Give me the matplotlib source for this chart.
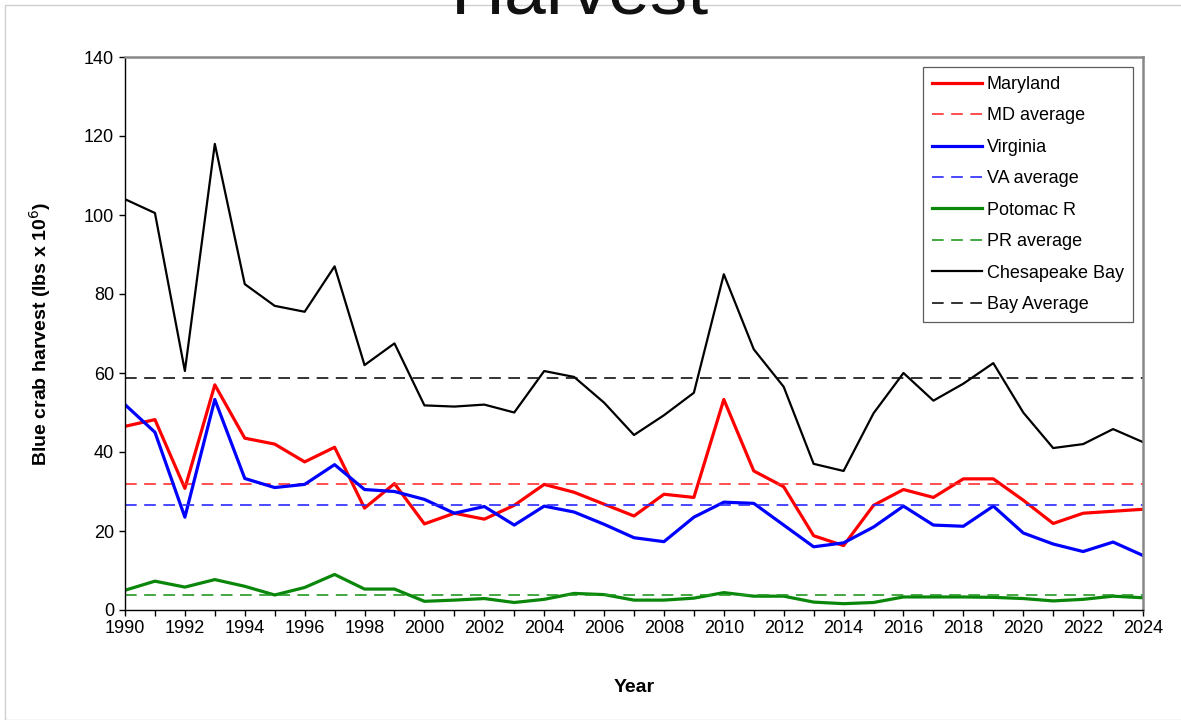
import matplotlib
matplotlib.use("Agg")
import matplotlib.pyplot as plt
from matplotlib.patches import Rectangle

years = list(range(1990, 2025))

maryland = [46.5, 48.2, 30.8, 57.0, 43.5, 42.0, 37.5, 41.2, 25.8, 32.0,
            21.8, 24.5, 23.0, 26.5, 31.8, 29.8, 26.8, 23.8, 29.3, 28.5,
            53.3, 35.2, 31.2, 18.8, 16.3, 26.5, 30.5, 28.5, 33.2, 33.2,
            27.8, 21.9, 24.5, 25.0, 25.5]
virginia = [52.0, 45.0, 23.5, 53.3, 33.3, 31.0, 31.8, 36.8, 30.5, 30.0,
            28.0, 24.5, 26.2, 21.5, 26.3, 24.8, 21.7, 18.3, 17.3, 23.5,
            27.3, 27.0, 21.5, 16.0, 17.0, 21.0, 26.3, 21.5, 21.2, 26.3,
            19.5, 16.7, 14.8, 17.2, 13.8]
potomac = [5.0, 7.3, 5.8, 7.7, 6.0, 3.8, 5.7, 9.0, 5.3, 5.3,
           2.2, 2.5, 2.9, 1.9, 2.7, 4.2, 3.9, 2.5, 2.5, 3.0,
           4.4, 3.5, 3.5, 2.0, 1.6, 1.9, 3.3, 3.3, 3.3, 3.2,
           2.9, 2.3, 2.7, 3.5, 3.1]
bay = [104.0, 100.5, 60.5, 118.0, 82.5, 77.0, 75.5, 87.0, 62.0, 67.5,
       51.8, 51.5, 52.0, 50.0, 60.5, 59.0, 52.5, 44.3, 49.3, 55.0,
       85.0, 66.0, 56.5, 37.0, 35.2, 49.8, 60.0, 53.0, 57.3, 62.5,
       50.0, 41.0, 42.0, 45.8, 42.5]

md_avg = 31.9
va_avg = 26.5
pr_avg = 3.8
bay_avg = 58.7

plt.rcParams['font.family'] = ['Liberation Sans', 'DejaVu Sans']

fig = plt.figure(figsize=(11.81, 7.20), dpi=100)
ax = fig.add_axes([125/1181, 1-610/720, (1143-125)/1181, (610-57)/720])

dash = (0, (7, 4.5))
ends = [years[0], years[-1]]
ax.plot(years, maryland, color='#ff0000', lw=2.3, label='Maryland')
ax.plot(ends, [md_avg]*2, color='#ff3030', lw=1.2, ls=dash, label='MD average')
ax.plot(years, virginia, color='#0000ff', lw=2.3, label='Virginia')
ax.plot(ends, [va_avg]*2, color='#2a2aff', lw=1.2, ls=dash, label='VA average')
ax.plot(years, potomac, color='#0a870a', lw=2.3, label='Potomac R')
ax.plot(ends, [pr_avg]*2, color='#229922', lw=1.2, ls=dash, label='PR average')
ax.plot(years, bay, color='black', lw=1.6, label='Chesapeake Bay')
ax.plot(ends, [bay_avg]*2, color='#111111', lw=1.2, ls=dash, label='Bay Average')

ax.set_xlim(1990, 2024)
ax.set_ylim(0, 140)
ax.set_xticks(range(1990, 2025, 2))
ax.set_xticks(range(1990, 2025, 1), minor=True)
ax.set_yticks(range(0, 141, 20))
ax.tick_params(axis='both', which='both', direction='out', length=4.5, width=1,
               labelsize=13, colors='black')
ax.tick_params(axis='x', pad=3)

for s in ['top', 'right']:
    ax.spines[s].set_color('#888888')
    ax.spines[s].set_linewidth(1.8)
for s in ['left', 'bottom']:
    ax.spines[s].set_color('black')
    ax.spines[s].set_linewidth(1.0)

ax.set_xlabel('Year', fontsize=14, fontweight='bold', labelpad=30)
ax.set_ylabel('Blue crab harvest (lbs x 10$^{6}$)', fontsize=14,
              fontweight='bold', labelpad=22)

leg = ax.legend(loc='upper right', bbox_to_anchor=(1008/1018, 1-10/553),
                fontsize=13, frameon=True, fancybox=False, shadow=False,
                handlelength=2.8, handletextpad=0.25, labelspacing=0.8,
                borderpad=0.5, borderaxespad=0)
leg.get_frame().set_edgecolor('#333333')
leg.get_frame().set_linewidth(0.9)

fig.text(580/1181, 1-13/720, 'Harvest', fontsize=54, ha='center', va='baseline',
         color='#111111')

fig.patches.append(Rectangle((5/1181, 0), 1.2, 1-5/720, transform=fig.transFigure,
                             fill=False, edgecolor='#d0d0d0', lw=1.0))

fig.savefig('out.png', dpi=100)
